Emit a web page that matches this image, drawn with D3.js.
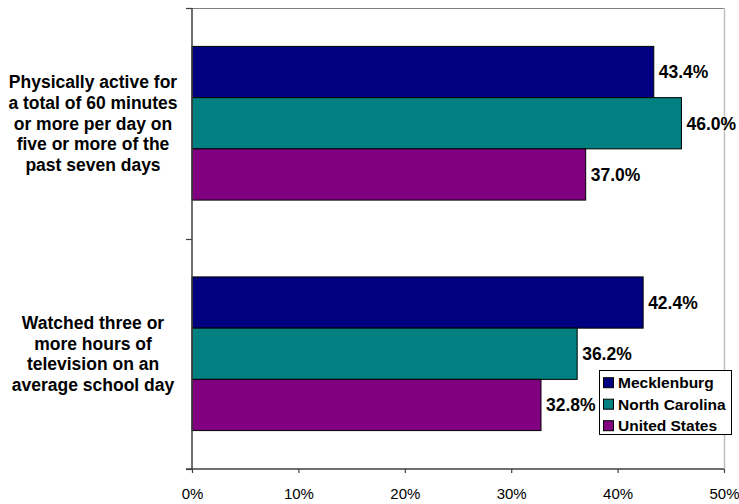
<!DOCTYPE html>
<html><head><meta charset="utf-8">
<script src="https://cdn.jsdelivr.net/npm/d3@7"></script>
<style>body{margin:0;background:#fff}svg{display:block;font-family:"Liberation Sans",Arial,sans-serif}</style>
</head><body>
<svg id="c" width="739" height="504"></svg>
<script>
const categories = [
  ["Physically active for","a total of 60 minutes","or more per day on","five or more of the","past seven days"],
  ["Watched three or","more hours of","television on an","average school day"]
];
const categoryKeys = ["active", "tv"];
const series = ["Mecklenburg", "North Carolina", "United States"];
const colors = ["#000080", "#008080", "#800080"];
const values = {
  "Mecklenburg":    [43.4, 42.4],
  "North Carolina": [46.0, 36.2],
  "United States":  [37.0, 32.8]
};
const xTicks = [0, 10, 20, 30, 40, 50];

const svg = d3.select("#c");
const L = 192, R = 724, T = 8, B = 469;
const x = d3.scaleLinear().domain([0, 50]).range([L, R]);
const y0 = d3.scaleBand().domain(categoryKeys).range([T, B]).padding(0);
const y1 = d3.scaleBand().domain(series).range([0, y0.bandwidth()]).paddingInner(0).paddingOuter(0.75);

// plot border (top & right)
svg.append("line").attr("x1", L).attr("x2", R).attr("y1", T + 0.5).attr("y2", T + 0.5).attr("stroke", "#808080");
svg.append("line").attr("x1", R + 0.5).attr("x2", R + 0.5).attr("y1", T).attr("y2", B).attr("stroke", "#c0c0c0").attr("stroke-width", 1.5);

// bars
categoryKeys.forEach((k, ci) => {
  const g = svg.append("g").attr("transform", `translate(0,${y0(k)})`);
  series.forEach((s, si) => {
    const v = values[s][ci];
    g.append("rect")
      .attr("x", x(0)).attr("y", y1(s))
      .attr("width", x(v) - x(0)).attr("height", y1.bandwidth())
      .attr("fill", colors[si]).attr("stroke", "#000").attr("stroke-width", 1);
    g.append("text")
      .attr("x", x(v) + 5).attr("y", y1(s) + y1.bandwidth() / 2)
      .attr("dy", "0.36em")
      .attr("font-size", "17.5px").attr("font-weight", "bold").attr("fill", "#000")
      .text(v.toFixed(1) + "%");
  });
});

// x axis
const xAxis = d3.axisBottom(x).tickValues(xTicks).tickFormat(d => d + "%").tickSize(4).tickSizeOuter(0);
const gx = svg.append("g").attr("transform", `translate(0,${B})`).call(xAxis);
gx.select(".domain").attr("stroke", "#404040").attr("stroke-width", 1.5).attr("d", `M${L - 6},0H${R}`);
gx.selectAll(".tick line").attr("stroke", "#404040").attr("stroke-width", 1.2);
gx.selectAll(".tick text").attr("font-size", "15px").attr("font-family", "Liberation Sans, Arial, sans-serif").attr("fill", "#000").attr("dy", "1.55em");

// y axis
const yEdges = [T, y0(categoryKeys[1]), B];
svg.append("line").attr("x1", L).attr("x2", L).attr("y1", T).attr("y2", B).attr("stroke", "#404040").attr("stroke-width", 1.5);
svg.selectAll(".ytick").data(yEdges).enter().append("line")
  .attr("x1", L - 6).attr("x2", L).attr("y1", d => Math.round(d) + 0.5).attr("y2", d => Math.round(d) + 0.5)
  .attr("stroke", "#404040").attr("stroke-width", 1.2);

// category labels
const lh = 20.8;
categoryKeys.forEach((k, ci) => {
  const lines = categories[ci];
  const cy = y0(k) + y0.bandwidth() / 2;
  const t = svg.append("text").attr("text-anchor", "middle").attr("font-size", "17.5px").attr("font-weight", "bold").attr("fill", "#000");
  lines.forEach((ln, i) => {
    t.append("tspan").attr("x", 93).attr("y", cy + (i - (lines.length - 1) / 2) * lh).attr("dy", "0.36em").text(ln);
  });
});

// legend
const lg = svg.append("g");
lg.append("rect").attr("x", 599.5).attr("y", 370.5).attr("width", 132).attr("height", 64).attr("fill", "#fff").attr("stroke", "#000");
series.forEach((s, i) => {
  const cy = 382.7 + i * 21.5;
  lg.append("rect").attr("x", 603.5).attr("y", cy - 5).attr("width", 10).attr("height", 10).attr("fill", colors[i]).attr("stroke", "#000");
  lg.append("text").attr("x", 618).attr("y", cy).attr("dy", "0.36em").attr("font-size", "15.5px").attr("font-weight", "bold").attr("fill", "#000").text(s);
});
</script>
</body></html>
